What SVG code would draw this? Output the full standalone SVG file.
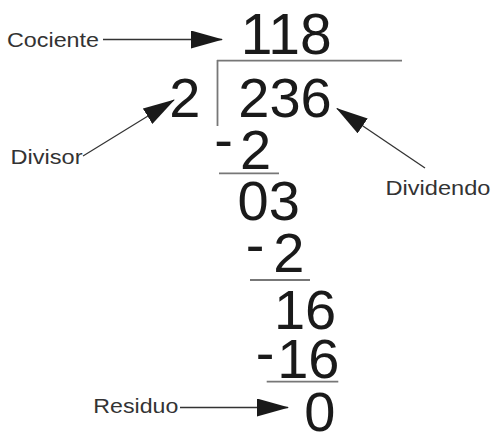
<svg xmlns="http://www.w3.org/2000/svg" width="493" height="432" viewBox="0 0 493 432">
<defs>
<style>
.num{font-family:"Liberation Sans",Arial,sans-serif;font-size:56px;fill:#1a1a1a}
.lbl{font-family:"Liberation Sans",Arial,sans-serif;font-size:21px;fill:#333}
.rule{stroke:#777;stroke-width:1.8;fill:none}
.conn{stroke:#333;stroke-width:1.3;fill:none;marker-end:url(#ah)}
</style>
<marker id="ah" markerUnits="userSpaceOnUse" markerWidth="32" markerHeight="18" refX="31" refY="9" orient="auto" viewBox="0 0 32 18">
<path d="M0,0 L32,9 L0,18 Z" fill="#1a1a1a"/>
</marker>
</defs>
<rect width="493" height="432" fill="#fff"/>
<g id="bracket">
<line class="rule" x1="217" y1="60.7" x2="402" y2="60.7"/>
<line class="rule" x1="217.5" y1="60" x2="217.5" y2="126"/>
</g>
<g id="cociente-num"><text class="num" x="240.8" y="54" style="font-size:57px">118</text></g>
<g id="divisor-num"><text class="num" x="169.3" y="117">2</text></g>
<g id="dividendo-num"><text class="num" x="238.3" y="117">236</text></g>
<g id="step1">
<text class="num"><tspan x="214.2" y="158.5">-</tspan><tspan x="240" y="169">2</tspan></text>
<line class="rule" x1="219" y1="173.3" x2="279" y2="173.3"/>
</g>
<g id="step2"><text class="num" x="237.6" y="220">03</text></g>
<g id="step3">
<text class="num"><tspan x="245.8" y="263.5">-</tspan><tspan x="273.3" y="272">2</tspan></text>
<line class="rule" x1="250" y1="280" x2="310" y2="280"/>
</g>
<g id="step4"><text class="num" x="273.9" y="329">16</text></g>
<g id="step5">
<text class="num"><tspan x="255.8" y="372">-</tspan><tspan x="277.2" y="378">16</tspan></text>
<line class="rule" x1="266.7" y1="381.7" x2="338.3" y2="381.7"/>
</g>
<g id="residuo-num"><text class="num" x="304.3" y="431">0</text></g>
<g id="label-cociente"><text class="lbl" x="7" y="47" textLength="92" lengthAdjust="spacingAndGlyphs">Cociente</text></g>
<g id="label-divisor"><text class="lbl" x="10.5" y="164" textLength="72" lengthAdjust="spacingAndGlyphs">Divisor</text></g>
<g id="label-dividendo"><text class="lbl" x="385.5" y="195" textLength="105" lengthAdjust="spacingAndGlyphs">Dividendo</text></g>
<g id="label-residuo"><text class="lbl" x="93.3" y="413" textLength="85" lengthAdjust="spacingAndGlyphs">Residuo</text></g>
<g id="connectors">
<line class="conn" x1="103" y1="39.5" x2="222" y2="39.5"/>
<line class="conn" x1="83" y1="156" x2="174" y2="100"/>
<line class="conn" x1="425" y1="168" x2="337" y2="108.5"/>
<line class="conn" x1="180" y1="407.5" x2="288" y2="407.5"/>
</g>
</svg>
